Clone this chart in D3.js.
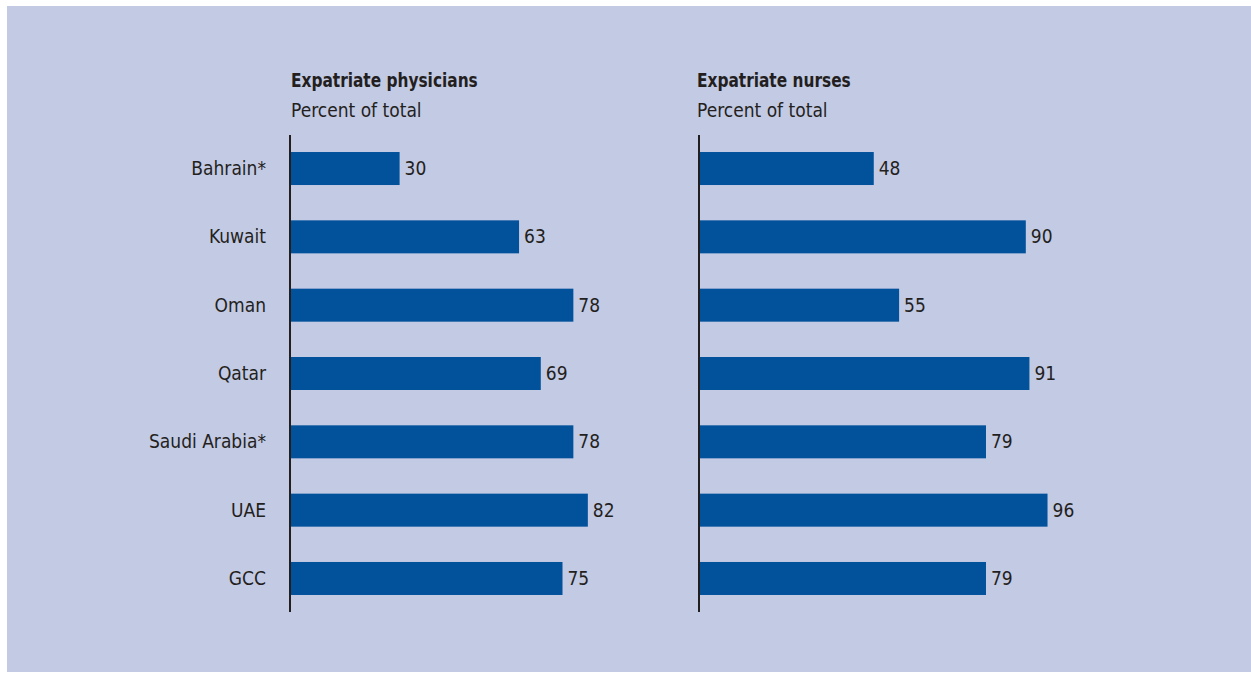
<!DOCTYPE html>
<html>
<head>
<meta charset="utf-8">
<script src="https://cdn.jsdelivr.net/npm/d3@7"></script>
<style>
  html, body { margin: 0; padding: 0; background: #ffffff; }
  svg { display: block; }
  text { font-family: "DejaVu Sans Condensed", "Liberation Sans Narrow", sans-serif; fill: #231f20; }
</style>
</head>
<body>
<svg id="chart" width="1251" height="673"></svg>
<script>
// Countries of the Gulf Cooperation Council, top to bottom
const countries = ["Bahrain*", "Kuwait", "Oman", "Qatar", "Saudi Arabia*", "UAE", "GCC"];
// Share of expatriates in the health workforce, percent of total
const physicians = [30, 63, 78, 69, 78, 82, 75];
const nurses = [48, 90, 55, 91, 79, 96, 79];
const panelTitles = ["Expatriate physicians", "Expatriate nurses"];
const unitLabel = "Percent of total";

const W = 1251, H = 673;
const svg = d3.select("#chart");

// Background panel
svg.append("rect")
  .attr("x", 7).attr("y", 6)
  .attr("width", W - 7).attr("height", 666)
  .attr("fill", "#c3cae4");

const y = d3.scaleBand()
  .domain(countries)
  .range([135, 612])
  .paddingInner(0.517)
  .paddingOuter(0.249);

const panels = [
  { title: panelTitles[0], values: physicians, x0: 290, tx: 291, showCats: true },
  { title: panelTitles[1], values: nurses, x0: 699, tx: 697, showCats: false }
];

panels.forEach(p => {
  const x = d3.scaleLinear().domain([0, 100]).range([p.x0 + 1, p.x0 + 363]);
  const g = svg.append("g");

  // Bold heading, narrowed to a condensed width
  g.append("text")
    .attr("transform", `translate(${p.tx},86.5) scale(0.9,1)`)
    .attr("font-size", 19).attr("font-weight", "bold")
    .text(p.title);
  g.append("text")
    .attr("x", p.tx).attr("y", 116.5)
    .attr("font-size", 19)
    .text(unitLabel);

  g.selectAll("rect.bar")
    .data(countries)
    .join("rect")
    .attr("class", "bar")
    .attr("x", x(0))
    .attr("y", d => y(d))
    .attr("width", (d, i) => x(p.values[i]) - x(0))
    .attr("height", y.bandwidth())
    .attr("fill", "#02519b");

  g.selectAll("text.val")
    .data(countries)
    .join("text")
    .attr("class", "val")
    .attr("x", (d, i) => x(p.values[i]) + 5)
    .attr("y", d => y(d) + y.bandwidth() / 2)
    .attr("dy", "0.35em")
    .attr("font-size", 19)
    .text((d, i) => p.values[i]);

  if (p.showCats) {
    g.selectAll("text.cat")
      .data(countries)
      .join("text")
      .attr("class", "cat")
      .attr("x", p.x0 - 24)
      .attr("y", d => y(d) + y.bandwidth() / 2)
      .attr("dy", "0.35em")
      .attr("text-anchor", "end")
      .attr("font-size", 19)
      .text(d => d);
  }

  // Vertical baseline
  g.append("line")
    .attr("x1", p.x0).attr("x2", p.x0)
    .attr("y1", 135).attr("y2", 612)
    .attr("stroke", "#231f20").attr("stroke-width", 2);
});
</script>
</body>
</html>
